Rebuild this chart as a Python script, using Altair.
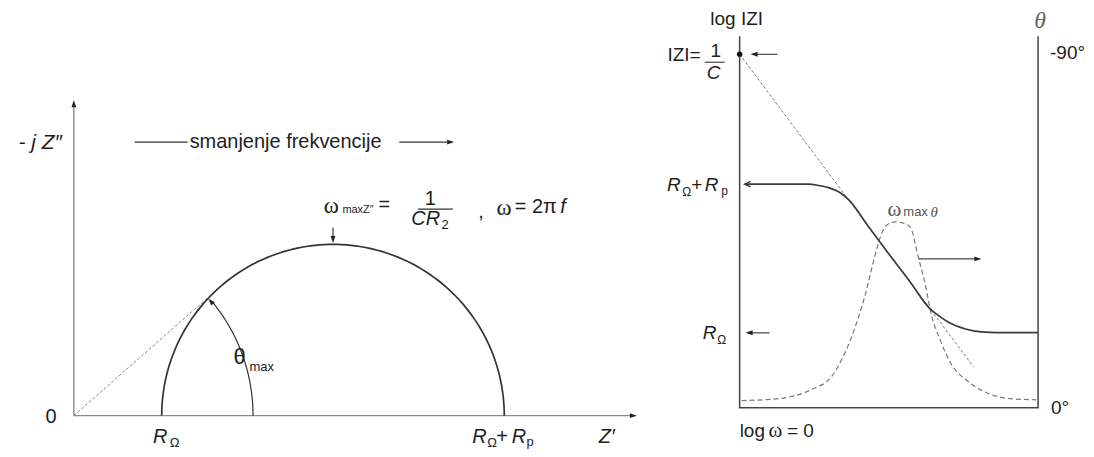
import altair as alt
import numpy as np
import pandas as pd

# ------------------------------------------------------------------
# LEFT PANEL : Nyquist plot  (units: R_OHM = 1)
# ------------------------------------------------------------------
R_OHM = 1.0
R_P = 3.9
NYQ_X_DOMAIN = [-0.75, 6.489]
NYQ_Y_DOMAIN = [-0.375, 4.636]

NYQ_AXES_X = [0.0, 0.0, 6.36]
NYQ_AXES_Y = [3.55, 0.0, 0.0]
NYQ_AXIS_HEAD_X = [0.0, 6.41]
NYQ_AXIS_HEAD_Y = [3.59, 0.0]
NYQ_AXIS_HEAD_A = [270, 0]

THETA_ARC_R = 2.04          # radius of the theta_max arc
THETA_ARC_END = 39          # degrees
THETA_TIP_DEG = 41

TOP_ARROW_X = [2.95, 2.95]
TOP_ARROW_Y = [2.14, 2.0]
FREQ_LINE_X = [0.693, 1.295]
FREQ_ARROW_X = [3.705, 4.28]
FREQ_Y = 3.114
FRAC_L_X = [3.917, 4.315]
FRAC_L_Y = 2.352

# text: (label, x, y, size)
NYQ_SANS_C_T = ["0", "=", "1", ",", "+", "Ω", "Ω", "p", "2", "θ"]
NYQ_SANS_C_X = [-0.26, 3.534, 4.057, 4.636, 4.875, 1.148, 4.761, 5.193, 4.227, 1.886]
NYQ_SANS_C_Y = [-0.02, 2.398, 2.466, 2.318, -0.239, -0.307, -0.307, -0.295, 2.17, 0.67]
NYQ_SANS_C_S = [20, 20, 20, 20, 20, 13, 13, 13, 13, 22]

NYQ_SANS_L_T = ["smanjenje frekvencije", "= 2π", "maxZ″", "max"]
NYQ_SANS_L_X = [1.318, 5.02, 3.057, 2.0]
NYQ_SANS_L_Y = [3.114, 2.375, 2.34, 0.557]
NYQ_SANS_L_S = [20, 20, 11, 13]

NYQ_ITAL_C_T = ["R", "R", "R", "Z′", "CR", "f"]
NYQ_ITAL_C_X = [0.983, 4.619, 5.068, 6.068, 4.006, 5.57]
NYQ_ITAL_C_Y = [-0.239, -0.239, -0.239, -0.239, 2.239, 2.375]
NYQ_ITAL_C_S = [20, 20, 20, 20, 20, 20]

NYQ_ITAL_R_T = ["- j Z″"]
NYQ_ITAL_R_X = [-0.136]
NYQ_ITAL_R_Y = [3.102]
NYQ_ITAL_R_S = [21]

NYQ_SERIF_C_T = ["ω", "ω"]
NYQ_SERIF_C_X = [2.932, 4.898]
NYQ_SERIF_C_Y = [2.386, 2.364]
NYQ_SERIF_C_S = [23, 23]

# ------------------------------------------------------------------
# RIGHT PANEL : Bode plot (x = log w, y = log|Z|, theta in degrees)
# ------------------------------------------------------------------
BODE_X_DOMAIN = [-1.6255, 6.9235]
BODE_Y_DOMAIN = [-0.551, 5.376]
LOGW_MAX = 6.0
LOGZ_TOP = 5.0
LOGZ_C = 4.758          # |Z| = 1/C at log w = 0
LOGZ_RSUM = 3.01        # R_Omega + R_p
LOGZ_ROHM = 1.008       # R_Omega
THETA_FULL = -90.0      # -90 deg plotted at LOGZ_C

ASYMP_X = [0.0, 4.70]
ASYMP_Y = [4.758, 0.551]

MAG_LOGW = [0.10, 1.00, 1.38, 1.60, 1.80, 1.95, 2.07, 2.19, 2.60, 3.00, 3.40,
            3.83, 4.00, 4.20, 4.54, 4.86, 5.20, 6.00]
MAG_LOGZ = [3.01, 3.01, 3.01, 2.99, 2.96, 2.92, 2.87, 2.80, 2.43, 2.07, 1.72,
            1.33, 1.24, 1.15, 1.06, 1.02, 1.01, 1.01]

PHASE_LOGW = [0.04, 0.78, 1.44, 1.85, 2.05, 2.25, 2.53, 2.73, 2.85, 2.99, 3.13,
              3.29, 3.43, 3.59, 3.73, 3.85, 4.03, 4.25, 4.60, 5.00, 5.46, 5.96]
PHASE_DEG = [-1.8, -2.3, -4.6, -7.9, -12.2, -18.0, -29.0, -39.2, -44.2, -46.8, -47.3,
             -47.0, -46.0, -38.4, -31.5, -23.9, -17.3, -11.2, -6.6, -3.6, -2.3, -2.0]

BODE_ARROWS_X0 = [0.763, 0.602, 3.592]
BODE_ARROWS_X1 = [0.26, 0.16, 4.80]
BODE_ARROWS_Y = [4.758, 1.008, 2.003]
BODE_HEAD_X = [0.22, 0.12, 4.86]
BODE_HEAD_A = [180, 180, 0]
BODE_FRAC_X = [-0.702, -0.301]
BODE_FRAC_Y = 4.651

BODE_SANS_C_T = ["log IZI", "1", "+", "Ω", "p", "Ω"]
BODE_SANS_C_X = [-0.06, -0.482, -0.863, -1.064, -0.301, -0.361]
BODE_SANS_C_Y = [5.228, 4.798, 2.997, 2.903, 2.917, 0.914]
BODE_SANS_C_S = [19, 19, 19, 12, 12, 12]

BODE_SANS_L_T = ["-90°", "0°", "log", "= 0"]
BODE_SANS_L_X = [6.241, 6.261, 0.0, 0.95]
BODE_SANS_L_Y = [4.772, 0.0, -0.309, -0.309]
BODE_SANS_L_S = [19, 19, 19, 19]

BODE_SANS_R_T = ["IZI="]
BODE_SANS_R_X = [-0.783]
BODE_SANS_R_Y = [4.745]
BODE_SANS_R_S = [19]

BODE_ITAL_C_T = ["C", "R", "R", "R"]
BODE_ITAL_C_X = [-0.522, -1.325, -0.562, -0.602]
BODE_ITAL_C_Y = [4.503, 2.997, 2.997, 1.008]
BODE_ITAL_C_S = [19, 19, 19, 19]

BODE_SERIF_C_T = ["ω"]
BODE_SERIF_C_X = [0.72]
BODE_SERIF_C_Y = [-0.309]
BODE_SERIF_C_S = [21]

PEAK_T = ["ω", "max"]
PEAK_X = [3.111, 3.291]
PEAK_Y = [2.661, 2.634]
PEAK_S = [21, 13]
PEAK_THETA_X = [3.913]
PEAK_THETA_Y = [2.634]

AXIS_THETA_X = [6.04]
AXIS_THETA_Y = [5.202]

# ------------------------------------------------------------------
SANS = "Liberation Sans"
SERIF = "Liberation Serif"
INK = "#1e1e1e"
HEAD = "M0,0L-2,-0.7L-2,0.7Z"
CHEVRON = "M-2,-0.9L0,0L-2,0.9"


def seg_df(segments):
    rows = []
    for k, (xs, ys) in enumerate(segments):
        for i, (x, y) in enumerate(zip(xs, ys)):
            rows.append({"x": x, "y": y, "i": i, "seg": k})
    return pd.DataFrame(rows)


def lines(df, xsc, ysc, color, width, dash=None, interp="linear"):
    kw = dict(color=color, strokeWidth=width, interpolate=interp)
    if dash:
        kw["strokeDash"] = dash
    return alt.Chart(df).mark_line(**kw).encode(
        x=alt.X("x:Q", scale=xsc, axis=None),
        y=alt.Y("y:Q", scale=ysc, axis=None),
        detail="seg:N",
        order="i:Q",
    )


def heads(xs, ys, angs, xsc, ysc, color, size=49, shape=HEAD, filled=True):
    df = pd.DataFrame({"x": xs, "y": ys, "a": angs})
    return alt.Chart(df).mark_point(
        shape=shape, filled=filled, size=size, color=color, opacity=1, strokeWidth=1.3
    ).encode(
        x=alt.X("x:Q", scale=xsc, axis=None),
        y=alt.Y("y:Q", scale=ysc, axis=None),
        angle=alt.Angle("a:Q", scale=None),
    )


def texts(t, xs, ys, ss, xsc, ysc, font=SANS, style="normal", align="center", color=INK):
    df = pd.DataFrame({"t": t, "x": xs, "y": ys, "s": ss})
    return alt.Chart(df).mark_text(
        font=font, fontStyle=style, align=align, baseline="middle", color=color
    ).encode(
        x=alt.X("x:Q", scale=xsc, axis=None),
        y=alt.Y("y:Q", scale=ysc, axis=None),
        text="t:N",
        size=alt.Size("s:Q", scale=None),
    )


# ---------------- left panel ----------------
nx = alt.Scale(domain=NYQ_X_DOMAIN, nice=False, zero=False)
ny = alt.Scale(domain=NYQ_Y_DOMAIN, nice=False, zero=False)

c = R_OHM + R_P / 2
r = R_P / 2
ang = np.radians(np.linspace(180, 0, 121))
semi_x = c + r * np.cos(ang)
semi_y = r * np.sin(ang)
t_len = np.sqrt(c ** 2 - r ** 2)
phi = np.arcsin(r / c)
arc_ang = np.radians(np.linspace(0, THETA_ARC_END, 30))
tip = np.radians(THETA_TIP_DEG)

left = alt.layer(
    lines(seg_df([(NYQ_AXES_X, NYQ_AXES_Y)]), nx, ny, "#8c8c8c", 1.4),
    heads(NYQ_AXIS_HEAD_X, NYQ_AXIS_HEAD_Y, NYQ_AXIS_HEAD_A, nx, ny, "#222"),
    lines(seg_df([([0, t_len * np.cos(phi)], [0, t_len * np.sin(phi)])]), nx, ny,
          "#888", 1.0, dash=[3, 2]),
    lines(seg_df([(list(semi_x), list(semi_y))]), nx, ny, "#333", 1.7),
    lines(seg_df([(list(THETA_ARC_R * np.cos(arc_ang)), list(THETA_ARC_R * np.sin(arc_ang)))]),
          nx, ny, "#333", 1.2),
    heads([2.03 * np.cos(tip)], [2.03 * np.sin(tip)], [229], nx, ny, "#222"),
    lines(seg_df([(TOP_ARROW_X, TOP_ARROW_Y),
                  (FREQ_LINE_X, [FREQ_Y, FREQ_Y]),
                  (FREQ_ARROW_X, [FREQ_Y, FREQ_Y]),
                  (FRAC_L_X, [FRAC_L_Y, FRAC_L_Y])]), nx, ny, "#333", 1.2),
    heads([TOP_ARROW_X[0], FREQ_ARROW_X[1] + 0.05], [1.965, FREQ_Y], [90, 0], nx, ny, "#222"),
    texts(NYQ_SANS_C_T, NYQ_SANS_C_X, NYQ_SANS_C_Y, NYQ_SANS_C_S, nx, ny),
    texts(NYQ_SANS_L_T, NYQ_SANS_L_X, NYQ_SANS_L_Y, NYQ_SANS_L_S, nx, ny, align="left"),
    texts(NYQ_ITAL_C_T, NYQ_ITAL_C_X, NYQ_ITAL_C_Y, NYQ_ITAL_C_S, nx, ny, style="italic"),
    texts(NYQ_ITAL_R_T, NYQ_ITAL_R_X, NYQ_ITAL_R_Y, NYQ_ITAL_R_S, nx, ny, style="italic",
          align="right"),
    texts(NYQ_SERIF_C_T, NYQ_SERIF_C_X, NYQ_SERIF_C_Y, NYQ_SERIF_C_S, nx, ny, font=SERIF),
).properties(width=637, height=441)

# ---------------- right panel ----------------
bx = alt.Scale(domain=BODE_X_DOMAIN, nice=False, zero=False)
by = alt.Scale(domain=BODE_Y_DOMAIN, nice=False, zero=False)

phase_y = [d * LOGZ_C / THETA_FULL for d in PHASE_DEG]

right = alt.layer(
    lines(seg_df([([0, 0, LOGW_MAX, LOGW_MAX], [LOGZ_TOP, 0, 0, LOGZ_TOP])]), bx, by, "#444", 1.5),
    lines(seg_df([(ASYMP_X, ASYMP_Y)]), bx, by, "#7a7a7a", 1.0, dash=[3, 2]),
    lines(seg_df([(PHASE_LOGW, phase_y)]), bx, by, "#7a7a7a", 1.2, dash=[5, 3], interp="monotone"),
    lines(seg_df([(MAG_LOGW, MAG_LOGZ)]), bx, by, "#3a3a3a", 1.7, interp="monotone"),
    heads([MAG_LOGW[0]], [MAG_LOGZ[0]], [180], bx, by, "#3a3a3a", size=36, shape=CHEVRON,
          filled=False),
    lines(seg_df([([x0, x1], [y, y]) for x0, x1, y in
                  zip(BODE_ARROWS_X0, BODE_ARROWS_X1, BODE_ARROWS_Y)]
                 + [(BODE_FRAC_X, [BODE_FRAC_Y, BODE_FRAC_Y])]), bx, by, "#444", 1.2),
    heads(BODE_HEAD_X, BODE_ARROWS_Y, BODE_HEAD_A, bx, by, "#222"),
    alt.Chart(pd.DataFrame({"x": [0.0], "y": [LOGZ_C]})).mark_circle(
        size=30, color="#111", opacity=1).encode(
        x=alt.X("x:Q", scale=bx, axis=None), y=alt.Y("y:Q", scale=by, axis=None)),
    texts(BODE_SANS_C_T, BODE_SANS_C_X, BODE_SANS_C_Y, BODE_SANS_C_S, bx, by),
    texts(BODE_SANS_L_T, BODE_SANS_L_X, BODE_SANS_L_Y, BODE_SANS_L_S, bx, by, align="left"),
    texts(BODE_SANS_R_T, BODE_SANS_R_X, BODE_SANS_R_Y, BODE_SANS_R_S, bx, by, align="right"),
    texts(BODE_ITAL_C_T, BODE_ITAL_C_X, BODE_ITAL_C_Y, BODE_ITAL_C_S, bx, by, style="italic"),
    texts(BODE_SERIF_C_T, BODE_SERIF_C_X, BODE_SERIF_C_Y, BODE_SERIF_C_S, bx, by, font=SERIF),
    texts(PEAK_T[:1], PEAK_X[:1], PEAK_Y[:1], PEAK_S[:1], bx, by, font=SERIF, color="#555"),
    texts(PEAK_T[1:], PEAK_X[1:], PEAK_Y[1:], PEAK_S[1:], bx, by, align="left", color="#555"),
    texts(["θ"], PEAK_THETA_X, PEAK_THETA_Y, [15], bx, by, font=SERIF, style="italic",
          color="#555"),
    texts(["θ"], AXIS_THETA_X, AXIS_THETA_Y, [24], bx, by, font=SERIF, style="italic",
          color="#666"),
).properties(width=426, height=441)

chart = alt.hconcat(left, right, spacing=15).properties(
    padding=0, background="white"
).configure_view(stroke=None)

chart.save("out.html", embed_options={"renderer": "svg", "actions": False})
